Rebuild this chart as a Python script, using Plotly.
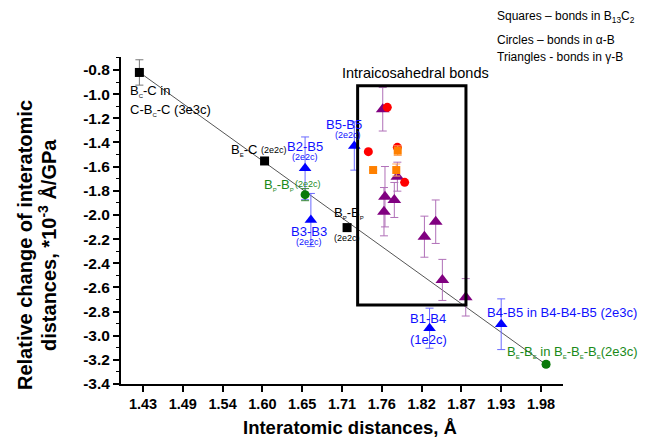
import numpy as np
import plotly.graph_objects as go

# ---------------- data ----------------
# Black squares: bonds in B13C2 (inter-icosahedral)
sq_x = [1.425, 1.598, 1.712]
sq_y = [-0.82, -1.553, -2.105]
sq_err = [0.105, 0.02, 0.03]

# Orange squares: B13C2 intraicosahedral
osq_x = [1.748, 1.780, 1.782]
osq_y = [-1.628, -1.628, -1.468]
osq_err = [0.0, 0.05, 0.04]

# Green circles: alpha-B inter-icosahedral
gc_x = [1.654, 1.987]
gc_y = [-1.832, -3.236]
gc_err = [0.05, 0.02]

# Red circles: alpha-B intraicosahedral
rc_x = [1.7414, 1.7676, 1.7815, 1.7916]
rc_y = [-1.476, -1.109, -1.44, -1.73]

# Blue triangles: gamma-B inter-icosahedral
bt_x = [1.654, 1.662, 1.722, 1.826, 1.925]
bt_y = [-1.614, -2.042, -1.429, -2.938, -2.905]
bt_err = [0.26, 0.22, 0.2, 0.166, 0.21]

# Purple triangles: gamma-B intraicosahedral
pt_x = [1.7613, 1.7815, 1.7644, 1.7773, 1.763, 1.8189, 1.8345, 1.8437, 1.876]
pt_y = [-1.125, -1.683, -1.849, -1.876, -1.973, -2.18, -2.056, -2.538, -2.682]
pt_err = [0.18, 0.12, 0.25, 0.145, 0.2, 0.17, 0.18, 0.17, 0.155]

# Linear fit line
fit_x = [1.4245, 1.9869]
fit_y = [-0.8166, -3.2387]

# Ticks
x_tickvals = [1.43, 1.485, 1.54, 1.595, 1.65, 1.705, 1.76, 1.815, 1.87, 1.925, 1.98]
x_ticktext = ["1.43", "1.49", "1.54", "1.60", "1.65", "1.71", "1.76", "1.82", "1.87", "1.93", "1.98"]
y_tickvals = [-3.4, -3.2, -3.0, -2.8, -2.6, -2.4, -2.2, -2.0, -1.8, -1.6, -1.4, -1.2, -1.0, -0.8]
y_ticktext = ["-3.4", "-3.2", "-3.0", "-2.8", "-2.6", "-2.4", "-2.2", "-2.0", "-1.8", "-1.6",
              "-1.4", "-1.2", "-1.0", "-0.8"]

FONT = "Liberation Sans, Arial, sans-serif"

fig = go.Figure()

fig.add_trace(go.Scatter(x=fit_x, y=fit_y, mode="lines",
                         line=dict(color="#555555", width=1), hoverinfo="skip"))


def err(arr, color, width=4):
    return dict(type="data", array=arr, visible=True, color=color, thickness=1, width=width)


fig.add_trace(go.Scatter(x=pt_x, y=pt_y, mode="markers",
                         marker=dict(symbol="triangle-up", size=12, color="#800080"),
                         error_y=err(pt_err, "#b070b8")))
fig.add_trace(go.Scatter(x=bt_x, y=bt_y, mode="markers",
                         marker=dict(symbol="triangle-up", size=11, color="#0000ff"),
                         error_y=err(bt_err, "#6a6aff")))
fig.add_trace(go.Scatter(x=rc_x, y=rc_y, mode="markers",
                         marker=dict(symbol="circle", size=9, color="#ff0000")))
fig.add_trace(go.Scatter(x=osq_x, y=osq_y, mode="markers",
                         marker=dict(symbol="square", size=8, color="#ff8000"),
                         error_y=err(osq_err, "#ffa860")))
fig.add_trace(go.Scatter(x=gc_x, y=gc_y, mode="markers",
                         marker=dict(symbol="circle", size=9, color="#0a7a0a"),
                         error_y=err(gc_err, "#3a8a3a")))
fig.add_trace(go.Scatter(x=sq_x, y=sq_y, mode="markers",
                         marker=dict(symbol="square", size=9, color="#000000"),
                         error_y=err(sq_err, "#777777")))

# Box around intraicosahedral bonds
fig.add_shape(type="rect", xref="x", yref="y", x0=1.7266, x1=1.8763, y0=-2.745, y1=-0.930,
              line=dict(color="black", width=3), fillcolor="rgba(0,0,0,0)")

BLUE = "#1010ff"
GREEN = "#1a8a1a"
ann = []


def s(letter):
    return '<sub><span style="font-size:6px">' + letter + '</span></sub>'


def add(text, x, y, size=13, color="black", xanchor="left", ref="data"):
    d = dict(text=text, x=x, y=y, showarrow=False, xanchor=xanchor, yanchor="middle",
             font=dict(family=FONT, size=size, color=color))
    if ref == "data":
        d.update(xref="x", yref="y")
    else:
        d.update(xref="paper", yref="paper")
    ann.append(d)


add("B" + s("C") + "-C in", 1.4093, -0.974, 13)
add("C-B" + s("C") + "-C (3e3c)", 1.4093, -1.131, 13)
add("B" + s("E") + "-C", 1.5489, -1.462, 13)
add("(2e2c)", 1.5903, -1.466, 9)
add("B2-B5", 1.6539, -1.437, 13, BLUE, "center")
add("(2e2c)", 1.6539, -1.524, 9, BLUE, "center")
add("B" + s("P") + "-B" + s("P"), 1.5945, -1.752, 13, GREEN)
add("(2e2c)", 1.6373, -1.742, 9, GREEN)
add("B3-B3", 1.6594, -2.141, 13, BLUE, "center")
add("(2e2c)", 1.6594, -2.221, 9, BLUE, "center")
add("B5-B5", 1.7078, -1.255, 13, BLUE, "center")
add("(2e2c)", 1.7133, -1.338, 9, BLUE, "center")
add("B" + s("P") + "-B" + s("P"), 1.6908, -1.984, 13)
add("(2e2c)", 1.7115, -2.191, 9, "black", "center")
add("B1-B4", 1.8239, -2.861, 13, BLUE, "center")
add("(1e2c)", 1.8239, -3.029, 13, BLUE, "center")
add("B4-B5 in B4-B4-B5 (2e3c)", 1.9026, -2.809, 13, BLUE)
add("B" + s("E") + "-B" + s("E") + " in B" + s("E") + "-B" + s("E") + "-B" + s("E") + "(2e3c)",
    1.930, -3.132, 13, GREEN)
add("Intraicosahedral bonds", 1.8059, -0.825, 14.5, "black", "center")
add("Squares \u2013 bonds in B<sub>13</sub>C<sub>2</sub>", 0.846, 1.122, 12, ref="paper")
add("Circles \u2013 bonds in \u03b1-B", 0.846, 1.052, 12, ref="paper")
add("Triangles - bonds in \u03b3-B", 0.846, 1.0, 12, ref="paper")

# y-axis title as two rotated lines
for txt, px in [("<b>Relative change of interatomic</b>", 25),
                ("<b>distances, *10<sup>-3</sup> \u00c5/GPa</b>", 47)]:
    ann.append(dict(text=txt, xref="paper", yref="paper", x=(px - 121) / 442.0, y=0.425,
                    textangle=-90, showarrow=False, xanchor="center", yanchor="middle",
                    font=dict(family=FONT, size=20, color="black")))

# x-axis title
ann.append(dict(text="<b>Interatomic distances, \u00c5</b>", xref="paper", yref="paper",
                x=(350 - 121) / 442.0, y=(384 - 427) / 327.0, showarrow=False,
                xanchor="center", yanchor="middle",
                font=dict(family=FONT, size=18.5, color="black")))

minor_y = [round(v, 2) for v in np.arange(-3.3, -0.65, 0.2)]

fig.update_layout(
    width=648, height=439,
    margin=dict(l=121, r=85, t=57, b=55, autoexpand=False),
    paper_bgcolor="white", plot_bgcolor="white",
    showlegend=False,
    annotations=ann,
    font=dict(family=FONT, color="black"),
    xaxis=dict(range=[1.3996, 2.0104], showgrid=False, zeroline=False, automargin=False,
               showline=True, linecolor="black", linewidth=2,
               ticks="outside", ticklen=6, tickwidth=1.5, tickcolor="black",
               tickmode="array", tickvals=x_tickvals, ticktext=x_ticktext,
               tickfont=dict(family=FONT, size=14.5, color="black", weight="bold")),
    yaxis=dict(range=[-3.4, -0.692], showgrid=False, zeroline=False, automargin=False,
               showline=True, linecolor="black", linewidth=2,
               ticks="outside", ticklen=6, tickwidth=1.5, tickcolor="black",
               tickmode="array", tickvals=y_tickvals, ticktext=y_ticktext,
               tickfont=dict(family=FONT, size=15.5, color="black", weight="bold"),
               minor=dict(tickmode="array", tickvals=minor_y, ticks="outside", ticklen=3,
                          tickwidth=1, tickcolor="black")),
)

fig.write_html("out.html")
